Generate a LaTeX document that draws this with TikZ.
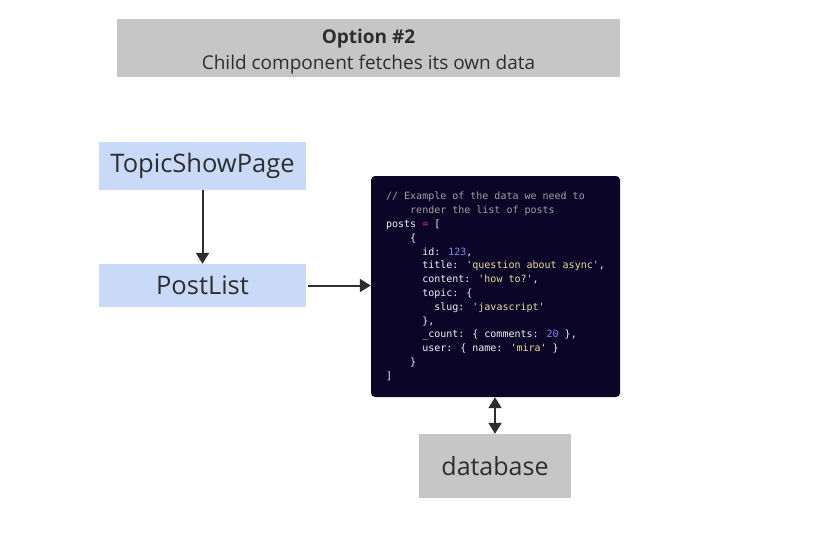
\documentclass[tikz,border=0pt]{standalone}
\usepackage{fontspec}
\setmainfont{Open Sans}
\newfontfamily\codefont{DejaVu Sans Mono}
\usetikzlibrary{positioning,arrows.meta}
\definecolor{boxgray}{HTML}{C6C6C6}
\definecolor{compblue}{HTML}{C9DAF8}
\definecolor{codebg}{HTML}{0B0628}
\definecolor{ink}{HTML}{2E2E2E}
\definecolor{codetxt}{HTML}{F2F2F2}
\definecolor{codecom}{HTML}{A0A0A0}
\definecolor{codestr}{HTML}{E8DC9C}
\definecolor{codenum}{HTML}{8E7EF2}
\definecolor{codeop}{HTML}{C8406E}
\newcommand{\cstr}[1]{{\color{codestr}#1}}
\newcommand{\cnum}[1]{{\color{codenum}#1}}
\newcommand{\ind}[1]{\hspace*{#1\dimexpr0.602em\relax}}

\begin{document}
\begin{tikzpicture}[x=1pt,y=-1pt,
    comp/.style={fill=compblue, font=\fontsize{25.5}{30}\selectfont, text=ink,
                 minimum width=207pt, inner sep=0pt},
    plain/.style={fill=boxgray, text=ink, inner sep=0pt},
    link/.style={draw=ink, line width=2pt, -{Triangle[length=11pt,width=13pt]}}]
  \useasboundingbox (0,0) rectangle (831,550);

  % heading
  \node[plain, minimum width=503pt, minimum height=58pt, align=center,
        font=\fontsize{19}{26}\selectfont] (title) at (368.5,48)
    {\rule{0pt}{22pt}\textbf{Option \#2}\\Child component fetches its own data};

  % components
  \node[comp, minimum height=48pt] (topic) at (202.5,166) {TopicShowPage};
  \node[comp, minimum height=43pt] (postlist) at (202.5,285.5) {PostList};

  % sample data
  \node[fill=codebg, rounded corners=4pt, minimum width=249pt, minimum height=221pt,
        inner sep=0pt, align=left, text=codetxt,
        font=\codefont\fontsize{10}{13.8}\selectfont] (code) at (495.5,286.5) {%
    {\color{codecom}// Example of the data we need to}\\
    {\color{codecom}\ind{4}render the list of posts}\\
    posts {\color{codeop}=} [\\
    \ind{4}\{\\
    \ind{6}id: \cnum{123},\\
    \ind{6}title: \cstr{'question about async'},\\
    \ind{6}content: \cstr{'how to?'},\\
    \ind{6}topic: \{\\
    \ind{8}slug: \cstr{'javascript'}\\
    \ind{6}\},\\
    \ind{6}\_count: \{ comments: \cnum{20} \},\\
    \ind{6}user: \{ name: \cstr{'mira'} \}\\
    \ind{4}\}\\
    ]};

  \node[plain, minimum width=152pt, minimum height=64pt,
        font=\fontsize{25}{30}\selectfont] (db) at (495,466) {database};

  \draw[link] (topic) -- (postlist);
  \draw[link] (postlist.east) ++(2,0) -- (code.west |- postlist.east);
  \draw[link, {Triangle[length=11pt,width=13pt]}-{Triangle[length=11pt,width=13pt]}]
    (code.south -| db) -- (db.north);
\end{tikzpicture}
\end{document}
